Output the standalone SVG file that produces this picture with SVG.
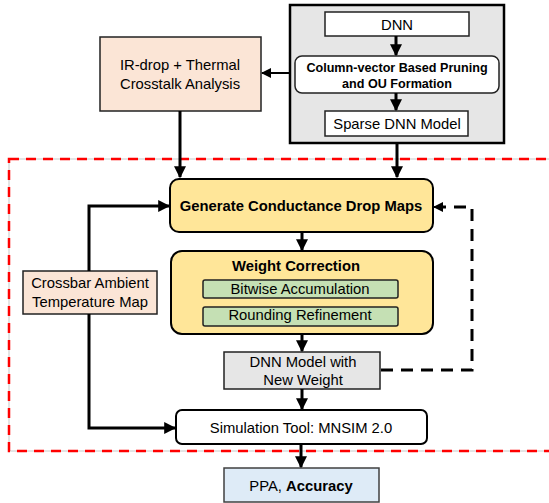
<svg xmlns="http://www.w3.org/2000/svg" width="549" height="503" viewBox="0 0 549 503">
  <style>
    text { font-family: "Liberation Sans", Arial, sans-serif; fill: #000; text-anchor: middle; }
    .t { font-size: 14.8px; }
    .b { font-weight: bold; }
    .box { stroke: #000; stroke-width: 2; }
    .thin { stroke: #222; stroke-width: 1.5; }
    .wire { fill: none; stroke: #000; stroke-width: 3; }
    .dash { fill: none; stroke: #000; stroke-width: 3; stroke-dasharray: 12 8; }
  </style>
  <defs>
    <marker id="arr" viewBox="0 0 10 10" refX="9" refY="5" markerWidth="4" markerHeight="4" orient="auto" markerUnits="strokeWidth">
      <path d="M0,0 L10,5 L0,10 z" fill="#000"/>
    </marker>
    <marker id="arrs" viewBox="0 0 10 10" refX="9" refY="5" markerWidth="5" markerHeight="5" orient="auto" markerUnits="strokeWidth">
      <path d="M0,0 L10,5 L0,10 z" fill="#000"/>
    </marker>
  </defs>

  <!-- boundary of the correction flow -->
  <g id="region">
    <rect x="9" y="159" width="560" height="292" fill="none" stroke="#c8c8c8" stroke-width="1"/>
    <rect x="9" y="159" width="560" height="292" fill="none" stroke="#ff0000" stroke-width="2.5" stroke-dasharray="10 7"/>
  </g>

  <!-- pruning stage -->
  <g id="pruning">
    <rect x="290" y="5" width="214" height="138" fill="#e6e6e6" stroke="#000" stroke-width="2.5"/>
  </g>
  <g id="dnn">
    <rect x="325" y="12" width="144" height="24" fill="#fff" class="thin"/>
    <text x="397" y="30" class="t">DNN</text>
  </g>
  <g id="column-pruning">
    <rect x="295" y="56" width="204" height="37" rx="7" fill="#fff" class="thin"/>
    <text x="397" y="72" class="b" font-size="12.6">Column-vector Based Pruning</text>
    <text x="397" y="88" class="b" font-size="12.6">and OU Formation</text>
  </g>
  <g id="sparse-dnn">
    <rect x="325" y="111" width="143" height="25" fill="#fff" class="thin"/>
    <text x="397" y="129" class="t">Sparse DNN Model</text>
  </g>

  <g id="ir-drop">
    <rect x="100" y="37" width="161" height="74" fill="#fbe5d6" class="thin"/>
    <text x="180" y="70" class="t">IR-drop + Thermal</text>
    <text x="180" y="89" class="t">Crosstalk Analysis</text>
  </g>

  <g id="crossbar-temp">
    <rect x="23" y="271" width="134" height="43" fill="#fbe5d6" class="thin"/>
    <text x="90" y="288" class="t">Crossbar Ambient</text>
    <text x="90" y="307" class="t">Temperature Map</text>
  </g>

  <g id="generate">
    <rect x="170" y="179" width="263" height="53" rx="9" fill="#ffe699" class="box"/>
    <text x="301" y="211" class="b" font-size="14.8">Generate Conductance Drop Maps</text>
  </g>

  <g id="weight-correction">
    <rect x="171" y="251" width="262" height="83" rx="11" fill="#ffe699" class="box"/>
    <text x="296" y="271" class="b" font-size="14.8">Weight Correction</text>
  </g>
  <g id="bitwise">
    <rect x="203" y="280" width="195" height="18" rx="2" fill="#c5e0b4" class="thin"/>
    <text x="300" y="294" class="t">Bitwise Accumulation</text>
  </g>
  <g id="rounding">
    <rect x="203" y="307" width="195" height="19" rx="2" fill="#c5e0b4" class="thin"/>
    <text x="300" y="320" class="t">Rounding Refinement</text>
  </g>

  <g id="new-weight">
    <rect x="224" y="352" width="156" height="37" fill="#e6e6e6" class="thin"/>
    <text x="303" y="367" class="t">DNN Model with</text>
    <text x="303" y="385" class="t">New Weight</text>
  </g>

  <g id="simulation">
    <rect x="176" y="410" width="251" height="34" rx="6" fill="#fff" class="box"/>
    <text x="301" y="433" class="t">Simulation Tool: MNSIM 2.0</text>
  </g>

  <g id="ppa">
    <rect x="224" y="468" width="155" height="34" fill="#deebf7" stroke="#404040" stroke-width="1.5"/>
    <text x="301" y="491" class="t">PPA, <tspan class="b">Accuracy</tspan></text>
  </g>

  <!-- connectors -->
  <g id="connectors">
    <line x1="396" y1="36" x2="396" y2="55" class="wire" marker-end="url(#arr)"/>
    <line x1="396" y1="93" x2="396" y2="110" class="wire" marker-end="url(#arr)"/>
    <line x1="290" y1="73" x2="262" y2="73" stroke="#000" stroke-width="2" marker-end="url(#arrs)"/>
    <line x1="180" y1="111" x2="180" y2="177" class="wire" marker-end="url(#arr)"/>
    <line x1="397" y1="143" x2="397" y2="177" class="wire" marker-end="url(#arr)"/>
    <polyline points="89,271 89,206 169,206" class="wire" marker-end="url(#arr)"/>
    <polyline points="89,314 89,428 175,428" class="wire" marker-end="url(#arr)"/>
    <line x1="302" y1="232" x2="302" y2="250" class="wire" marker-end="url(#arr)"/>
    <line x1="302" y1="334" x2="302" y2="351" class="wire" marker-end="url(#arr)"/>
    <line x1="302" y1="389" x2="302" y2="409" class="wire" marker-end="url(#arr)"/>
    <line x1="301" y1="444" x2="301" y2="467" class="wire" marker-end="url(#arr)"/>
    <polyline points="381,370 472,370 472,207 442,207" class="dash"/>
    <line x1="442" y1="207" x2="434" y2="207" stroke="#000" stroke-width="2" marker-end="url(#arrs)"/>
  </g>
</svg>
